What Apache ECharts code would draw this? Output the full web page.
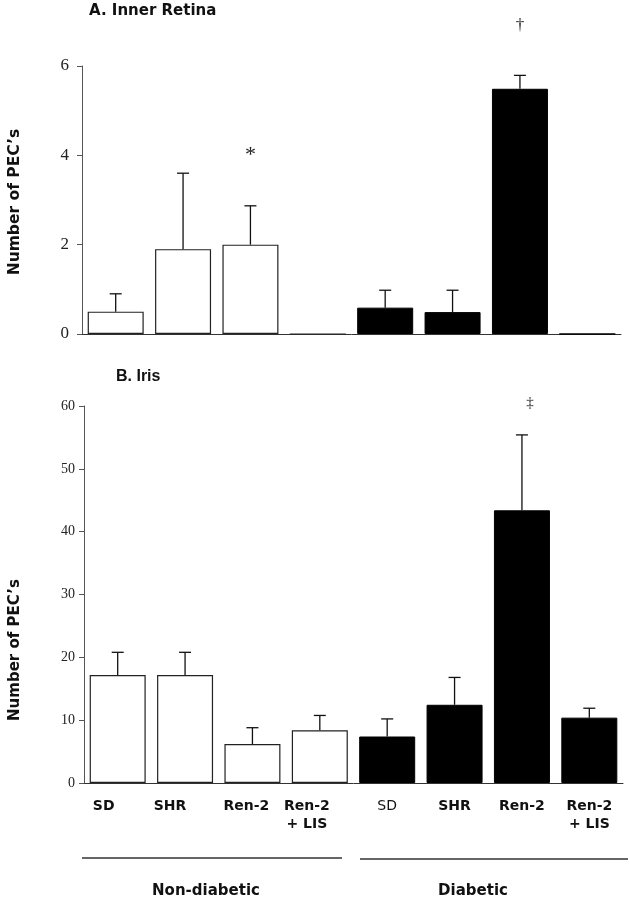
<!DOCTYPE html>
<html>
<head>
<meta charset="utf-8">
<script src="https://cdn.jsdelivr.net/npm/echarts@6/dist/echarts.min.js"></script>
<style>
html,body{margin:0;padding:0;background:#fff;}
#chart{width:630px;height:900px;}
</style>
</head>
<body>
<div id="chart"></div>
<script>
// ---- data ----
var categories = ['SD', 'SHR', 'Ren-2', 'Ren-2\n+ LIS', 'SD', 'SHR', 'Ren-2', 'Ren-2\n+ LIS'];
var groupOf = ['non', 'non', 'non', 'non', 'dia', 'dia', 'dia', 'dia'];
// A. Inner Retina (mean, SEM)
var retinaMean = [0.5, 1.9, 2.0, 0, 0.59, 0.49, 5.49, 0];
var retinaSem  = [0.4, 1.7, 0.87, null, 0.39, 0.49, 0.3, null];
// B. Iris (mean, SEM)
var irisMean = [17.2, 17.2, 6.2, 8.4, 7.4, 12.45, 43.4, 10.4];
var irisSem  = [3.6, 3.6, 2.6, 2.35, 2.8, 4.35, 12.0, 1.5];
var retinaTicks = [0, 2, 4, 6];
var irisTicks = [0, 10, 20, 30, 40, 50, 60];
// significance markers: [category index, y value, symbol]
var retinaMarks = [[2, 4.0, '*'], [6, 6.9, '\u2020']];
var irisMarks = [[6, 60.5, '\u2021']];

var chart = echarts.init(document.getElementById('chart'));

function barData(means) {
  return means.map(function (v, i) {
    var dia = groupOf[i] === 'dia';
    return {
      value: v,
      itemStyle: dia ? { color: '#000', borderColor: '#000', borderWidth: 1 }
                     : { color: '#fff', borderColor: '#222', borderWidth: 1.2 }
    };
  });
}
function errData(means, sems) {
  var out = [];
  means.forEach(function (m, i) { if (sems[i] != null) out.push([i, m, sems[i]]); });
  return out;
}
function errRender(params, api) {
  var i = api.value(0), m = api.value(1), s = api.value(2);
  var p0 = api.coord([i, m]);
  var p1 = api.coord([i, m + s]);
  var st = { stroke: '#111', lineWidth: 1.3 };
  return {
    type: 'group',
    children: [
      { type: 'line', shape: { x1: p0[0], y1: p0[1], x2: p1[0], y2: p1[1] }, style: st },
      { type: 'line', shape: { x1: p1[0] - 6, y1: p1[1], x2: p1[0] + 6, y2: p1[1] }, style: st }
    ]
  };
}
function markRender(size) {
  return function (params, api) {
    var p = api.coord([api.value(0), api.value(1)]);
    var txt = (params.dataIndex != null) ? params.context.marks[params.dataIndex][2] : '';
    return {
      type: 'text', x: p[0], y: p[1],
      style: { text: txt, fill: '#222', font: size + 'px "Liberation Serif", serif', align: 'center', verticalAlign: 'middle' }
    };
  };
}

var xLabelShift = [14, 15, 6, 13, 0, 0, 0, 0];
var xCats = categories.map(function (c, i) {
  var ts = { padding: [0, xLabelShift[i] * 2, 0, 0] };
  if (i === 4) ts.fontWeight = 'normal';
  return { value: c, textStyle: ts };
});

var option = {
  backgroundColor: '#fff',
  animation: false,
  grid: [
    { left: 82, top: 66, width: 539, height: 268 },
    { left: 84, top: 406, width: 539, height: 377 }
  ],
  xAxis: [
    { type: 'category', gridIndex: 0, data: categories,
      axisLine: { lineStyle: { color: '#333', width: 1 } }, axisTick: { show: false }, axisLabel: { show: false } },
    { type: 'category', gridIndex: 1, data: xCats,
      axisLine: { lineStyle: { color: '#333', width: 1 } }, axisTick: { show: false },
      axisLabel: { interval: 0, margin: 14, color: '#111', fontFamily: 'DejaVu Sans', fontWeight: 'bold', fontSize: 14, lineHeight: 18 } }
  ],
  yAxis: [
    { type: 'value', gridIndex: 0, min: retinaTicks[0], max: retinaTicks[retinaTicks.length - 1], interval: 2,
      axisLine: { show: true, lineStyle: { color: '#555' } },
      axisTick: { show: true, length: 5, lineStyle: { color: '#555' } },
      splitLine: { show: false },
      axisLabel: { margin: 13, color: '#222', fontFamily: 'Liberation Serif', fontSize: 17 } },
    { type: 'value', gridIndex: 1, min: irisTicks[0], max: irisTicks[irisTicks.length - 1], interval: 10,
      axisLine: { show: true, lineStyle: { color: '#555' } },
      axisTick: { show: true, length: 5, lineStyle: { color: '#555' } },
      splitLine: { show: false },
      axisLabel: { margin: 9, color: '#222', fontFamily: 'Liberation Serif', fontSize: 14 } }
  ],
  series: [
    { type: 'bar', xAxisIndex: 0, yAxisIndex: 0, barWidth: 56, data: barData(retinaMean) },
    { type: 'custom', xAxisIndex: 0, yAxisIndex: 0, renderItem: errRender, data: errData(retinaMean, retinaSem), z: 5 },
    { type: 'bar', xAxisIndex: 1, yAxisIndex: 1, barWidth: 56, data: barData(irisMean) },
    { type: 'custom', xAxisIndex: 1, yAxisIndex: 1, renderItem: errRender, data: errData(irisMean, irisSem), z: 5 },
    { type: 'custom', xAxisIndex: 0, yAxisIndex: 0, data: retinaMarks.map(function (m) { return [m[0], m[1]]; }),
      renderItem: function (params, api) {
        var p = api.coord([api.value(0), api.value(1)]);
        var m = retinaMarks[params.dataIndex];
        return { type: 'text', x: p[0], y: p[1],
          style: { text: m[2], fill: '#222', font: (m[2] === '*' ? 22 : 17) + 'px "Liberation Serif", serif', align: 'center', verticalAlign: 'middle' } };
      } },
    { type: 'custom', xAxisIndex: 1, yAxisIndex: 1, data: irisMarks.map(function (m) { return [m[0], m[1]]; }),
      renderItem: function (params, api) {
        var p = api.coord([api.value(0), api.value(1)]);
        var m = irisMarks[params.dataIndex];
        return { type: 'text', x: p[0] + 8, y: p[1],
          style: { text: m[2], fill: '#222', font: '15px "Liberation Serif", serif', align: 'center', verticalAlign: 'middle' } };
      } }
  ],
  graphic: [
    { type: 'text', left: 89, top: 4, style: { text: 'A. Inner Retina', fill: '#111', font: 'bold 15px "DejaVu Sans"' } },
    { type: 'text', left: 116, top: 369, style: { text: 'B. Iris', fill: '#111', font: 'bold 16px "Liberation Sans"' } },
    { type: 'text', x: 15, y: 202, rotation: Math.PI / 2,
      style: { text: "Number of PEC\u2019s", fill: '#111', font: 'bold 15.5px "DejaVu Sans"', align: 'center', verticalAlign: 'middle' } },
    { type: 'text', x: 15, y: 650, rotation: Math.PI / 2,
      style: { text: "Number of PEC\u2019s", fill: '#111', font: 'bold 15px "DejaVu Sans"', align: 'center', verticalAlign: 'middle' } },
    { type: 'line', shape: { x1: 82, y1: 858, x2: 342, y2: 858 }, style: { stroke: '#333', lineWidth: 1.5 } },
    { type: 'line', shape: { x1: 360, y1: 859, x2: 628, y2: 859 }, style: { stroke: '#333', lineWidth: 1.5 } },
    { type: 'text', x: 206, y: 891, style: { text: 'Non-diabetic', fill: '#111', font: 'bold 15px "DejaVu Sans"', align: 'center', verticalAlign: 'middle' } },
    { type: 'text', x: 473, y: 891, style: { text: 'Diabetic', fill: '#111', font: 'bold 15px "DejaVu Sans"', align: 'center', verticalAlign: 'middle' } }
  ]
};
chart.setOption(option);
</script>
</body>
</html>
